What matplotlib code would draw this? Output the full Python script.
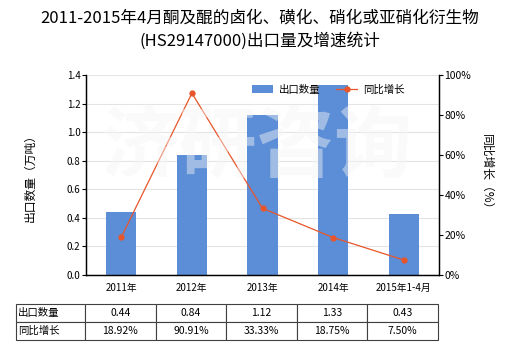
import numpy as np
import matplotlib.pyplot as plt

plt.rcParams['font.family'] = ['Noto Sans CJK SC', 'DejaVu Sans']

# 出口数量（万吨）与同比增长（%）
years = ['2011年', '2012年', '2013年', '2014年', '2015年1-4月']
export_qty = [0.44, 0.84, 1.12, 1.33, 0.43]
growth = [18.92, 90.91, 33.33, 18.75, 7.50]

bar_color = '#5b8ed6'
line_color = '#e8552a'

fig = plt.figure(figsize=(5.2, 3.5), dpi=100)
ax = fig.add_axes([86 / 520, 1 - 275 / 350, 353 / 520, 200 / 350])
ax2 = ax.twinx()

x = np.arange(len(years))
bars = ax.bar(x, export_qty, width=0.43, color=bar_color, zorder=2, label='出口数量')
line, = ax2.plot(x, growth, color=line_color, lw=0.9, marker='o', ms=3.5,
                 zorder=3, label='同比增长')

ax.set_xlim(-0.5, len(years) - 0.5)
ax.set_ylim(0, 1.4)
ax.set_yticks(np.arange(0, 1.41, 0.2))
ax.set_yticklabels([f'{v:.1f}' for v in np.arange(0, 1.41, 0.2)])
ax2.set_ylim(0, 100)
ax2.set_yticks(range(0, 101, 20))
ax2.set_yticklabels([f'{v}%' for v in range(0, 101, 20)])

ax.grid(axis='y', color='#e4e4e4', lw=0.8, zorder=0)
ax.set_axisbelow(True)
ax.set_xticks(x)
ax.set_xticklabels(years, fontsize=7)
ax.tick_params(axis='x', length=0, pad=6)
ax.tick_params(axis='y', labelsize=7, length=3, width=0.8, pad=1)
ax2.tick_params(axis='y', labelsize=7.5, length=3, width=0.8, pad=1)

for a in (ax, ax2):
    a.spines['top'].set_visible(False)
    for s in ('left', 'right', 'bottom'):
        a.spines[s].set_linewidth(0.9)
        a.spines[s].set_color('black')

ax.set_ylabel('出口数量（万吨）', fontsize=8.5, labelpad=22)
ax2.set_ylabel('同比增长（%）', fontsize=8.5, rotation=-90, labelpad=16)

fig.text(0.5, 0.947, '2011-2015年4月酮及醌的卤化、磺化、硝化或亚硝化衍生物',
         ha='center', va='center', fontsize=12)
fig.text(0.5, 0.883, '(HS29147000)出口量及增速统计', ha='center', va='center',
         fontsize=12)

ax.legend(handles=[bars, line], loc='upper right', bbox_to_anchor=(0.93, 1.0),
          ncol=2, frameon=False, fontsize=7.5, handlelength=2.0,
          handleheight=0.9, columnspacing=1.5, handletextpad=0.6)

# 水印，半透明压在图上
fig.text(0.495, 0.575, '济研咨询', ha='center', va='center', fontsize=56,
         color='#f6f6f6', alpha=0.45, zorder=10, fontweight='bold')

# 数据表
cell_text = [['出口数量'] + [f'{v:.2f}' for v in export_qty],
             ['同比增长'] + [f'{v:.2f}%' for v in growth]]
col_w = [69 / 353] + [70.6 / 353] * 5
table = ax.table(cellText=cell_text, colWidths=col_w, cellLoc='center',
                 bbox=[-70 / 353, -65 / 200, 422 / 353, 36 / 200])
table.auto_set_font_size(False)
table.set_fontsize(7.5)
for (r, c), cell in table.get_celld().items():
    cell.set_edgecolor('#404040')
    cell.set_linewidth(0.8)
    if c == 0:
        cell.set_text_props(ha='left')
        cell.PAD = 0.03

fig.savefig('out.png', dpi=100)
